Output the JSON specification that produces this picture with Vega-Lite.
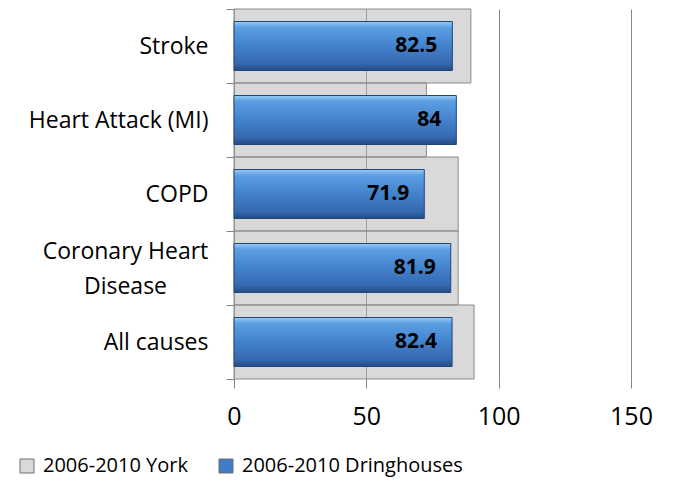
{
  "$schema": "https://vega.github.io/schema/vega-lite/v6.json",
  "width": 397,
  "height": 370,
  "autosize": {"type": "none"},
  "padding": {"left": 234, "top": 9, "right": 42, "bottom": 104},
  "background": "white",
  "config": {
    "view": {"stroke": null},
    "font": "Open Sans"
  },
  "data": {
    "values": [
      {"cause": "Stroke", "york": 89.5, "dring": 82.5},
      {"cause": "Heart Attack (MI)", "york": 72.7, "dring": 84},
      {"cause": "COPD", "york": 84.7, "dring": 71.9},
      {"cause": "Coronary Heart Disease", "york": 84.7, "dring": 81.9},
      {"cause": "All causes", "york": 90.7, "dring": 82.4}
    ]
  },
  "encoding": {
    "y": {
      "field": "cause",
      "type": "nominal",
      "sort": ["Stroke", "Heart Attack (MI)", "COPD", "Coronary Heart Disease", "All causes"],
      "scale": {"paddingInner": 0, "paddingOuter": 0},
      "axis": {
        "title": null,
        "tickBand": "extent",
        "tickSize": 8,
        "tickColor": "#868686",
        "domainColor": "#868686",
        "labelFontSize": 23,
        "labelColor": "#000000",
        "labelPadding": {"condition": {"test": "datum.value == 'Coronary Heart Disease'", "value": 101}, "value": 18},
        "labelAlign": {"condition": {"test": "datum.value == 'Coronary Heart Disease'", "value": "center"}, "value": "right"},
        "labelOffset": {"condition": {"test": "datum.value == 'Coronary Heart Disease'", "value": -17}, "value": 0},
        "labelLineHeight": 35,
        "labelLimit": 300,
        "labelBound": false,
        "labelOverlap": false,
        "labelExpr": "datum.value == 'Coronary Heart Disease' ? ['Coronary Heart', 'Disease'] : datum.value"
      }
    }
  },
  "layer": [
    {
      "mark": {"type": "bar", "fill": "#B3B3B3", "fillOpacity": 0.5, "stroke": "#8A8A8A", "strokeWidth": 1},
      "encoding": {
        "x": {
          "field": "york",
          "type": "quantitative",
          "scale": {"domain": [0, 150], "nice": false},
          "axis": {
            "title": null,
            "values": [0, 50, 100, 150],
            "grid": true,
            "gridColor": "#868686",
            "gridWidth": 1,
            "domain": false,
            "tickColor": "#868686",
            "tickSize": 9,
            "labelFontSize": 25,
            "labelColor": "#000000",
            "labelPadding": 16,
            "labelFlush": false
          }
        },
        "color": {
          "datum": "2006-2010 York",
          "type": "nominal",
          "scale": {"domain": ["2006-2010 York", "2006-2010 Dringhouses"], "range": ["#D9D9D9", "#3F7DC8"]},
          "legend": {
            "title": null,
            "orient": "none",
            "direction": "horizontal",
            "legendX": -217,
            "legendY": 447,
            "padding": 0,
            "symbolType": "square",
            "symbolSize": 196,
            "symbolStrokeColor": "#6E6E6E",
            "symbolStrokeWidth": 1,
            "symbolOpacity": 1,
            "labelFontSize": 20,
            "labelColor": "#000000",
            "labelOffset": 6,
            "columnPadding": 27,
            "labelLimit": 400
          }
        }
      }
    },
    {
      "mark": {
        "type": "bar",
        "size": 49,
        "stroke": "#22467A",
        "strokeWidth": 1,
        "fill": {
          "gradient": "linear",
          "x1": 0, "y1": 0, "x2": 0, "y2": 1,
          "stops": [
            {"offset": 0, "color": "#9ACBF6"},
            {"offset": 0.12, "color": "#5C9EE2"},
            {"offset": 0.5, "color": "#4282CC"},
            {"offset": 0.85, "color": "#3669B0"},
            {"offset": 1, "color": "#244C82"}
          ]
        }
      },
      "encoding": {
        "x": {"field": "dring", "type": "quantitative"}
      }
    },
    {
      "mark": {"type": "text", "align": "right", "baseline": "middle", "dx": -15, "fontSize": 21, "fontWeight": "bold", "color": "#000000"},
      "encoding": {
        "x": {"field": "dring", "type": "quantitative"},
        "text": {"field": "dring", "type": "quantitative"}
      }
    }
  ]
}
